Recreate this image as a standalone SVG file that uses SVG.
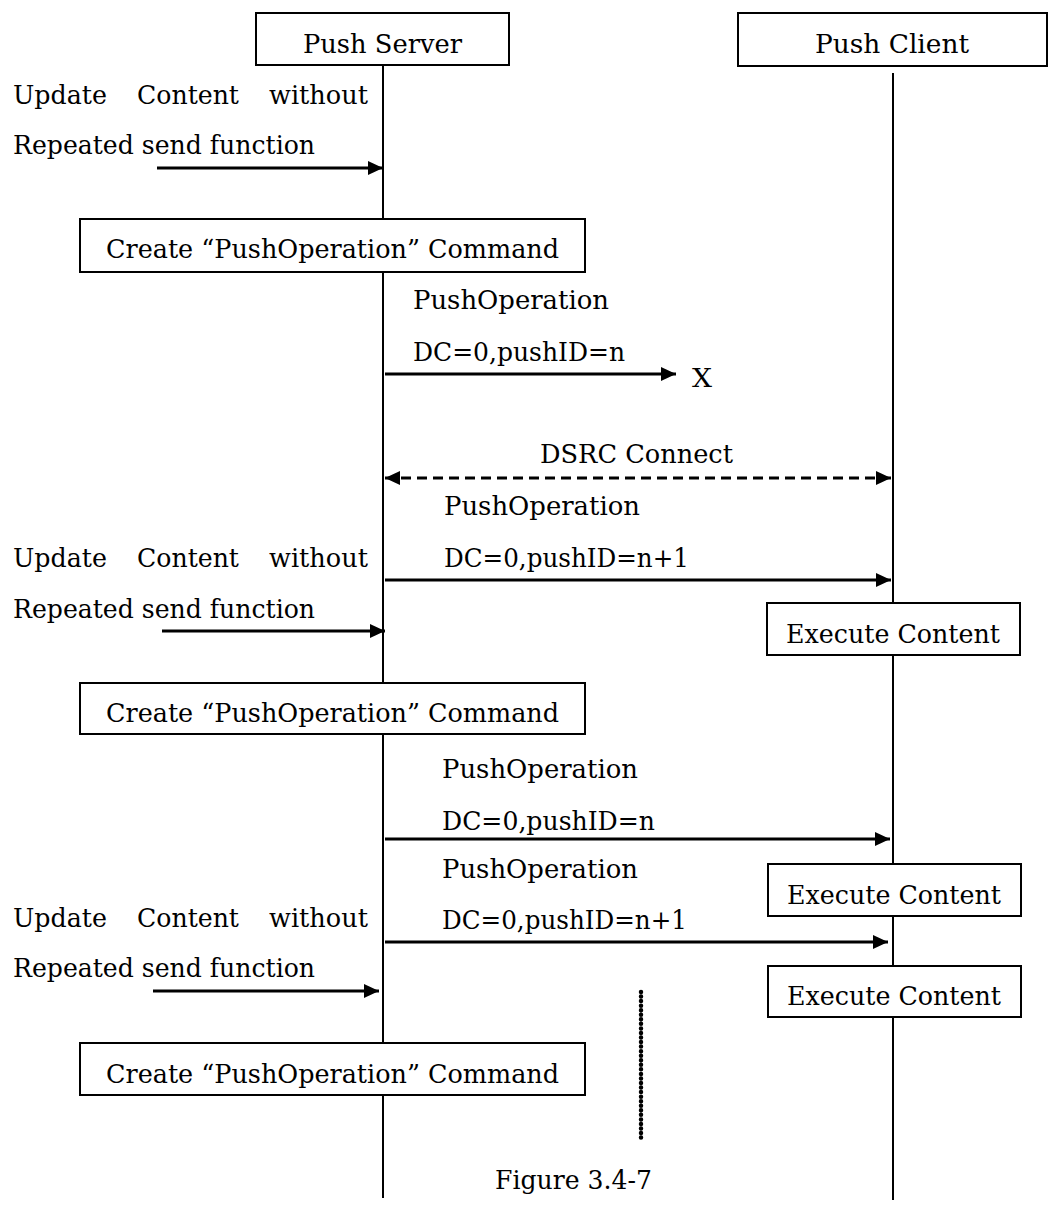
<svg xmlns="http://www.w3.org/2000/svg" width="1048" height="1213" viewBox="0 0 1048 1213">
  <style>
    text { font-family: "DejaVu Serif", "Liberation Serif", serif; font-size: 26px; fill: #000; }
    .mid { text-anchor: middle; }
    .box { fill: #fff; stroke: #000; stroke-width: 2; }
    .life { stroke: #000; stroke-width: 2; fill: none; }
    .msg { stroke: #000; stroke-width: 3; fill: none; }
    .dash { stroke-dasharray: 10 6; }
    .dots { stroke: #000; stroke-width: 4.5; stroke-linecap: round; stroke-dasharray: 0 4.55; fill: none; }
  </style>
  <defs>
    <marker id="head" markerUnits="userSpaceOnUse" markerWidth="15" markerHeight="14" refX="15" refY="7" orient="auto-start-reverse">
      <path d="M0,0 L15,7 L0,14 z" fill="#000"/>
    </marker>
  </defs>

  <rect width="1048" height="1213" fill="#fff"/>

  <!-- lifelines -->
  <g id="lifelines">
    <line class="life" x1="383" y1="65" x2="383" y2="1198"/>
    <line class="life" x1="893" y1="73" x2="893" y2="1200"/>
  </g>

  <!-- participants -->
  <g id="push-server">
    <rect class="box" x="256" y="13" width="253" height="52"/>
    <text class="mid" x="382.5" y="53" textLength="159" lengthAdjust="spacingAndGlyphs">Push Server</text>
  </g>
  <g id="push-client">
    <rect class="box" x="738" y="13" width="309" height="53"/>
    <text class="mid" x="892" y="53" textLength="154" lengthAdjust="spacingAndGlyphs">Push Client</text>
  </g>

  <!-- trigger notes on the server side -->
  <g id="trigger-1">
    <text x="13" y="104" textLength="94" lengthAdjust="spacingAndGlyphs">Update</text>
    <text x="137" y="104" textLength="102" lengthAdjust="spacingAndGlyphs">Content</text>
    <text x="269" y="104" textLength="99" lengthAdjust="spacingAndGlyphs">without</text>
    <text x="13" y="154" textLength="302" lengthAdjust="spacingAndGlyphs">Repeated send function</text>
  </g>
  <g id="trigger-2">
    <text x="13" y="567" textLength="94" lengthAdjust="spacingAndGlyphs">Update</text>
    <text x="137" y="567" textLength="102" lengthAdjust="spacingAndGlyphs">Content</text>
    <text x="269" y="567" textLength="99" lengthAdjust="spacingAndGlyphs">without</text>
    <text x="13" y="618" textLength="302" lengthAdjust="spacingAndGlyphs">Repeated send function</text>
  </g>
  <g id="trigger-3">
    <text x="13" y="927" textLength="94" lengthAdjust="spacingAndGlyphs">Update</text>
    <text x="137" y="927" textLength="102" lengthAdjust="spacingAndGlyphs">Content</text>
    <text x="269" y="927" textLength="99" lengthAdjust="spacingAndGlyphs">without</text>
    <text x="13" y="977" textLength="302" lengthAdjust="spacingAndGlyphs">Repeated send function</text>
  </g>

  <!-- command creation boxes -->
  <g id="create-1">
    <rect class="box" x="80" y="219" width="505" height="53"/>
    <text class="mid" x="332.5" y="258" textLength="453" lengthAdjust="spacingAndGlyphs">Create “PushOperation” Command</text>
  </g>
  <g id="create-2">
    <rect class="box" x="80" y="683" width="505" height="51"/>
    <text class="mid" x="332.5" y="722" textLength="453" lengthAdjust="spacingAndGlyphs">Create “PushOperation” Command</text>
  </g>
  <g id="create-3">
    <rect class="box" x="80" y="1043" width="505" height="52"/>
    <text class="mid" x="332.5" y="1083" textLength="453" lengthAdjust="spacingAndGlyphs">Create “PushOperation” Command</text>
  </g>

  <!-- client execution boxes -->
  <g id="execute-1">
    <rect class="box" x="767" y="603" width="253" height="52"/>
    <text class="mid" x="893" y="643" textLength="214" lengthAdjust="spacingAndGlyphs">Execute Content</text>
  </g>
  <g id="execute-2">
    <rect class="box" x="768" y="864" width="253" height="52"/>
    <text class="mid" x="894" y="904" textLength="214" lengthAdjust="spacingAndGlyphs">Execute Content</text>
  </g>
  <g id="execute-3">
    <rect class="box" x="768" y="966" width="253" height="51"/>
    <text class="mid" x="894" y="1005" textLength="214" lengthAdjust="spacingAndGlyphs">Execute Content</text>
  </g>

  <!-- messages -->
  <g id="connectors">
    <line class="msg" x1="157" y1="168" x2="383" y2="168" marker-end="url(#head)"/>
    <line class="msg" x1="385" y1="374" x2="676" y2="374" marker-end="url(#head)"/>
    <line class="msg dash" x1="385" y1="478" x2="891" y2="478" marker-start="url(#head)" marker-end="url(#head)"/>
    <line class="msg" x1="385" y1="580" x2="891" y2="580" marker-end="url(#head)"/>
    <line class="msg" x1="162" y1="631" x2="385" y2="631" marker-end="url(#head)"/>
    <line class="msg" x1="385" y1="839" x2="890" y2="839" marker-end="url(#head)"/>
    <line class="msg" x1="385" y1="942" x2="888" y2="942" marker-end="url(#head)"/>
    <line class="msg" x1="153" y1="991" x2="379" y2="991" marker-end="url(#head)"/>
  </g>

  <!-- message labels -->
  <g id="labels">
    <text x="413" y="309" textLength="196" lengthAdjust="spacingAndGlyphs">PushOperation</text>
    <text x="413" y="361" textLength="212" lengthAdjust="spacingAndGlyphs">DC=0,pushID=n</text>
    <text x="692" y="387" textLength="20" lengthAdjust="spacingAndGlyphs">X</text>
    <text x="540" y="463" textLength="193" lengthAdjust="spacingAndGlyphs">DSRC Connect</text>
    <text x="444" y="515" textLength="196" lengthAdjust="spacingAndGlyphs">PushOperation</text>
    <text x="444" y="567" textLength="245" lengthAdjust="spacingAndGlyphs">DC=0,pushID=n+1</text>
    <text x="442" y="778" textLength="196" lengthAdjust="spacingAndGlyphs">PushOperation</text>
    <text x="442" y="830" textLength="213" lengthAdjust="spacingAndGlyphs">DC=0,pushID=n</text>
    <text x="442" y="878" textLength="196" lengthAdjust="spacingAndGlyphs">PushOperation</text>
    <text x="442" y="929" textLength="245" lengthAdjust="spacingAndGlyphs">DC=0,pushID=n+1</text>
  </g>

  <!-- continuation marker -->
  <line class="dots" x1="641" y1="992" x2="641" y2="1142"/>

  <text x="495" y="1189" textLength="157" lengthAdjust="spacingAndGlyphs">Figure 3.4-7</text>
</svg>
